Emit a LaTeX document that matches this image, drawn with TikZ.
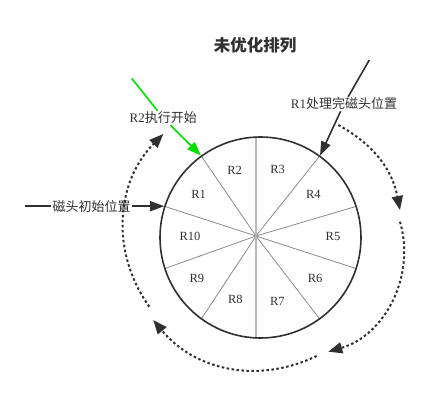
\documentclass[tikz,border=0pt]{standalone}
\usepackage{fontspec}
\setmainfont{Liberation Serif}
\newfontfamily\cjk{Noto Sans CJK SC}
\usepackage{tikz}
\usetikzlibrary{calc,arrows.meta,backgrounds}
\definecolor{ink}{HTML}{303030}
\definecolor{spokegray}{HTML}{8A8A8A}
\definecolor{headgreen}{HTML}{00E000}
\tikzset{
  lbl/.style={font=\cjk\fontsize{13}{15}\selectfont, text=ink, fill=white, inner sep=1pt},
  seclbl/.style={font=\fontsize{12.5}{14}\selectfont, text=ink},
  headarrow/.style={draw=ink, line width=1.6pt, -{Triangle[length=14pt,width=10pt]}},
  sweep/.style={draw=ink, line width=2pt, dash pattern=on 2.5pt off 2.5pt,
    -{Triangle[length=14pt,width=11pt]}},
}

\begin{document}
\begin{tikzpicture}[x=1pt,y=1pt]
    \useasboundingbox (-256,-179) rectangle (180,236);
    \coordinate (hub) at (0,0);
    \node[circle, draw=ink, line width=1.6pt, minimum size=201pt, inner sep=0pt] (disk) at (4.5,-1.5) {};
    \node[font=\cjk\bfseries\fontsize{16.5}{18}\selectfont, text=ink] (title) at (-1,191) {未优化排列};

    % spokes between the ten records
    \begin{scope}[on background layer]
      \foreach \a in {18,54,126,162,198,234,306,342}{%
        \draw[spokegray, line width=0.8pt] (hub) -- (disk.\a);
      }
      \draw[black!28, line width=1.6pt] (hub |- disk.north) -- (hub |- disk.south);
    \end{scope}
    \foreach \t/\a/\r in {R1/144/71, R2/108/69, R3/72/70, R4/36/71, R5/0/77,
                          R6/-36/73, R7/-72/69, R8/-108/67, R9/-144/73, R10/180/66}{%
      \node[seclbl] (\t) at ($(hub)+(\a:\r)$) {\t};
    }

    % head positions
    \coordinate (initstart) at ($(disk.162)+(-139.5,0)$);
    \node[lbl] (initlbl) at ($(disk.162)+(-72.5,0)$) {磁头初始位置};
    \draw[headarrow] (initstart) -- (initlbl) -- (disk.162);

    \coordinate (gostart) at (-124.3,157.7);
    \node[lbl] (golbl) at (-92.7,118) {{\rmfamily R2}执行开始};
    \draw[headarrow, draw=headgreen] (gostart) -- (golbl) -- (disk.126);

    \coordinate (donestart) at (113.3,176);
    \node[lbl] (donelbl) at (88,132) {{\rmfamily R1}处理完磁头位置};
    \draw[headarrow] (donestart) -- (donelbl) -- (disk.54);

    % rotation of the disk
    \coordinate (sweepAa) at (82.3,111);    \coordinate (sweepAb) at (144,26);
    \coordinate (sweepBa) at (144,14.3);    \coordinate (sweepBb) at (72.3,-115.7);
    \coordinate (sweepCa) at (60.7,-120);   \coordinate (sweepCb) at (-102.7,-84);
    \coordinate (sweepDa) at (-106.7,-70.7);\coordinate (sweepDb) at (-92.7,102);
    \draw[sweep] (sweepAa) to[bend left=25] (sweepAb);
    \draw[sweep] (sweepBa) to[bend left=45] (sweepBb);
    \draw[sweep] (sweepCa) to[bend left=38] (sweepCb);
    \draw[sweep] (sweepDa) to[bend left=40] (sweepDb);
\end{tikzpicture}
\end{document}
